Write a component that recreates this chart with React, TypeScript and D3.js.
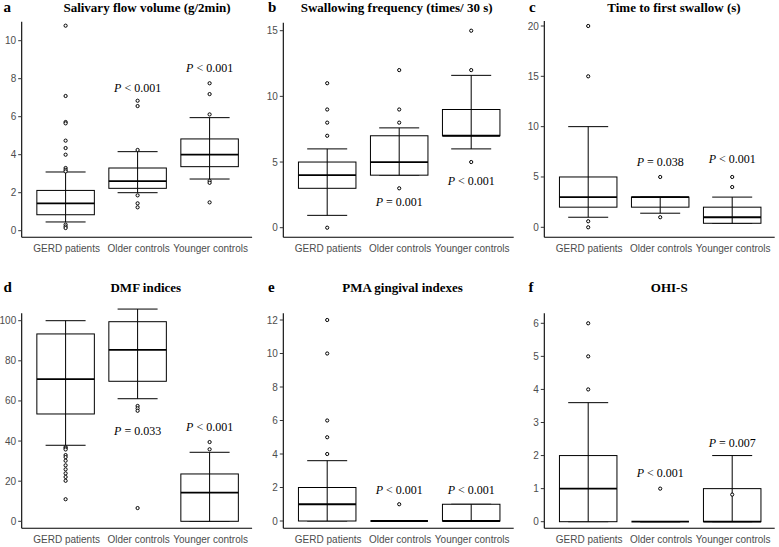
import React from "react";
import * as d3 from "d3";

const categories = ["GERD patients", "Older controls", "Younger controls"];

// box stats per group: [lower whisker, Q1, median, Q3, upper whisker]
const salivaryBoxes = [
  [0.46, 0.84, 1.44, 2.12, 3.09],
  [2.0, 2.23, 2.61, 3.3, 4.16],
  [2.72, 3.37, 4.0, 4.83, 5.95],
];
const salivaryOutliers = [
  [10.79, 7.09, 5.72, 5.65, 4.74, 4.35, 4.0, 3.3, 3.2, 3.12, 0.32, 0.22, 0.14],
  [6.84, 6.56, 4.25, 1.86, 1.44, 1.23],
  [7.76, 7.19, 6.12, 2.62, 2.52, 1.49],
];
const salivaryTicks = [0, 2, 4, 6, 8, 10];
const salivaryP = ["", "< 0.001", "< 0.001"];

const swallowBoxes = [
  [0.94, 3, 4, 5, 6],
  [4, 4, 5, 7, 7.6],
  [6, 7, 7, 9, 11.6],
];
const swallowOutliers = [[0, 7, 8, 9, 11], [3, 8, 9, 12], [5, 12, 15]];
const swallowTicks = [0, 5, 10, 15];
const swallowP = ["", "= 0.001", "< 0.001"];

const firstSwallowBoxes = [
  [1, 2, 3, 5, 10],
  [1.4, 2, 3, 3, 3],
  [0.4, 0.4, 1, 2, 3],
];
const firstSwallowOutliers = [[0, 0.6, 15, 20], [1, 5], [4, 5]];
const firstSwallowTicks = [0, 5, 10, 15, 20];
const firstSwallowP = ["", "= 0.038", "< 0.001"];

const dmfBoxes = [
  [37.9, 53.5, 70.9, 93.4, 100],
  [61.1, 69.8, 85.5, 99.5, 105.8],
  [0, 0, 14.3, 23.6, 34.4],
];
const dmfOutliers = [
  [37, 36.4, 35.8, 33, 32, 30.2, 27.9, 25.9, 23.9, 22.1, 20.2, 11],
  [57.5, 56.3, 55.1, 6.6],
  [35.9, 39.5],
];
const dmfTicks = [0, 20, 40, 60, 80, 100];
const dmfP = ["", "= 0.033", "< 0.001"];

const pmaBoxes = [
  [0, 0, 1, 2, 3.6],
  [0, 0, 0, 0, 0],
  [0, 0, 0, 1, 1],
];
const pmaOutliers = [[4, 5, 6, 10, 12], [1], []];
const pmaTicks = [0, 2, 4, 6, 8, 10, 12];
const pmaP = ["", "< 0.001", "< 0.001"];

const ohiBoxes = [
  [0, 0, 1, 2, 3.6],
  [0, 0, 0, 0, 0],
  [0, 0, 0, 1, 2],
];
const ohiOutliers = [[4, 5, 6], [1], [0.82]];
const ohiTicks = [0, 1, 2, 3, 4, 5, 6];
const ohiP = ["", "< 0.001", "= 0.007"];

// layout (pixels / label anchors)
type PanelCfg = {
  letter: string;
  title: string;
  boxes: number[][];
  outliers: number[][];
  ticks: number[];
  pTexts: string[];
  pY: number[];
  axisX: number;
  axisTop: number;
  axisBottom: number;
  yDomain: [number, number];
  yRange: [number, number];
  titleX: number;
  titleY: number;
  letterX: number;
};

const panels: PanelCfg[] = [
  {
    letter: "a", title: "Salivary flow volume (g/2min)", boxes: salivaryBoxes, outliers: salivaryOutliers,
    ticks: salivaryTicks, pTexts: salivaryP, pY: [0, 7.3, 8.35],
    axisX: 21.7, axisTop: 21.7, axisBottom: 237.3, yDomain: [0, 10], yRange: [230.7, 40.7],
    titleX: 147, titleY: 11.5, letterX: 3.5,
  },
  {
    letter: "b", title: "Swallowing frequency (times/ 30 s)", boxes: swallowBoxes, outliers: swallowOutliers,
    ticks: swallowTicks, pTexts: swallowP, pY: [0, 1.65, 3.25],
    axisX: 283.3, axisTop: 22.7, axisBottom: 237.3, yDomain: [0, 15], yRange: [227.7, 30.7],
    titleX: 396.7, titleY: 11.5, letterX: 268,
  },
  {
    letter: "c", title: "Time to first swallow (s)", boxes: firstSwallowBoxes, outliers: firstSwallowOutliers,
    ticks: firstSwallowTicks, pTexts: firstSwallowP, pY: [0, 6.09, 6.39],
    axisX: 544.3, axisTop: 21, axisBottom: 237.3, yDomain: [0, 20], yRange: [227.3, 26],
    titleX: 674, titleY: 11.5, letterX: 529,
  },
  {
    letter: "d", title: "DMF indices", boxes: dmfBoxes, outliers: dmfOutliers,
    ticks: dmfTicks, pTexts: dmfP, pY: [0, 43, 45],
    axisX: 21.7, axisTop: 313.3, axisBottom: 528.3, yDomain: [0, 100], yRange: [521.3, 320.7],
    titleX: 145.8, titleY: 292, letterX: 3.5,
  },
  {
    letter: "e", title: "PMA gingival indexes", boxes: pmaBoxes, outliers: pmaOutliers,
    ticks: pmaTicks, pTexts: pmaP, pY: [0, 1.61, 1.61],
    axisX: 283.3, axisTop: 313.3, axisBottom: 528.3, yDomain: [0, 12], yRange: [521, 320],
    titleX: 402.5, titleY: 292, letterX: 268,
  },
  {
    letter: "f", title: "OHI-S", boxes: ohiBoxes, outliers: ohiOutliers,
    ticks: ohiTicks, pTexts: ohiP, pY: [0, 1.35, 2.26],
    axisX: 544.3, axisTop: 313.3, axisBottom: 528.3, yDomain: [0, 6], yRange: [521.7, 323.3],
    titleX: 669.2, titleY: 292, letterX: 528.5,
  },
];

const STEP = 72;
const BOX_W = 57.5;
const CAP_W = 40;
const SANS = "Liberation Sans, Arial, sans-serif";
const SERIF = "Liberation Serif, Times New Roman, Times, serif";

function Panel({ cfg }: { cfg: PanelCfg }) {
  const y = d3.scaleLinear().domain(cfg.yDomain).range(cfg.yRange);
  const x = d3
    .scalePoint<string>()
    .domain(categories)
    .range([cfg.axisX + 0.6 * STEP + 0.7, cfg.axisX + 2.6 * STEP + 0.7]);
  const axisRight = cfg.axisX + 3.2 * STEP;
  const boldSerif = { fontFamily: SERIF, fontWeight: 700 as const };
  return (
    <g>
      <text x={cfg.letterX} y={cfg.titleY} style={{ ...boldSerif, fontSize: "15px" }} fill="#000">
        {cfg.letter}
      </text>
      <text x={cfg.titleX} y={cfg.titleY} textAnchor="middle" style={{ ...boldSerif, fontSize: "13px" }} fill="#000">
        {cfg.title}
      </text>
      {/* axes */}
      <line x1={cfg.axisX} x2={cfg.axisX} y1={cfg.axisTop} y2={cfg.axisBottom} stroke="#000" strokeWidth={1.1} />
      <line x1={cfg.axisX} x2={axisRight} y1={cfg.axisBottom} y2={cfg.axisBottom} stroke="#000" strokeWidth={1.1} />
      {cfg.ticks.map((t) => (
        <g key={t}>
          <line x1={cfg.axisX - 3.5} x2={cfg.axisX} y1={y(t)} y2={y(t)} stroke="#333" strokeWidth={1} />
          <text x={cfg.axisX - 5.5} y={y(t)} dy="0.35em" textAnchor="end" style={{ fontFamily: SANS, fontSize: "10px" }} fill="#4d4d4d">
            {t}
          </text>
        </g>
      ))}
      {categories.map((c) => (
        <text key={c} x={(x(c) as number) + 1} y={cfg.axisBottom + 14.3} textAnchor="middle" style={{ fontFamily: SANS, fontSize: "10px" }} fill="#4d4d4d">
          {c}
        </text>
      ))}
      {/* boxes */}
      {categories.map((c, i) => {
        const cx = x(c) as number;
        const [lo, q1, med, q3, hi] = cfg.boxes[i];
        return (
          <g key={c} fill="none" stroke="#000">
            <line x1={cx} x2={cx} y1={y(q3)} y2={y(hi)} strokeWidth={1} />
            <line x1={cx} x2={cx} y1={y(q1)} y2={y(lo)} strokeWidth={1} />
            <line x1={cx - CAP_W / 2} x2={cx + CAP_W / 2} y1={y(hi)} y2={y(hi)} strokeWidth={1} />
            <line x1={cx - CAP_W / 2} x2={cx + CAP_W / 2} y1={y(lo)} y2={y(lo)} strokeWidth={1} />
            <rect x={cx - BOX_W / 2} y={y(q3)} width={BOX_W} height={Math.max(0, y(q1) - y(q3))} fill="#fff" strokeWidth={1} />
            <line x1={cx} x2={cx} y1={y(q3)} y2={y(q1)} strokeWidth={1} />
            <line x1={cx - BOX_W / 2} x2={cx + BOX_W / 2} y1={y(med)} y2={y(med)} strokeWidth={1.8} />
            {cfg.outliers[i].map((o, k) => (
              <circle key={k} cx={cx} cy={y(o)} r={1.6} fill="#fff" stroke="#000" strokeWidth={1} />
            ))}
          </g>
        );
      })}
      {categories.map((c, i) =>
        cfg.pTexts[i] ? (
          <text key={"p" + c} x={x(c) as number} y={y(cfg.pY[i])} textAnchor="middle" style={{ fontFamily: SERIF, fontSize: "12px", whiteSpace: "pre" }} fill="#000">
            <tspan fontStyle="italic">P</tspan>
            <tspan>{" " + cfg.pTexts[i]}</tspan>
          </text>
        ) : null
      )}
    </g>
  );
}

export default function App() {
  return (
    <svg
      width={779}
      height={547}
      viewBox="0 0 779 547"
      style={{ position: "absolute", left: 0, top: 0, background: "#fff" }}
    >
      <rect x={0} y={0} width={779} height={547} fill="#fff" />
      {panels.map((p) => (
        <Panel key={p.letter} cfg={p} />
      ))}
    </svg>
  );
}
